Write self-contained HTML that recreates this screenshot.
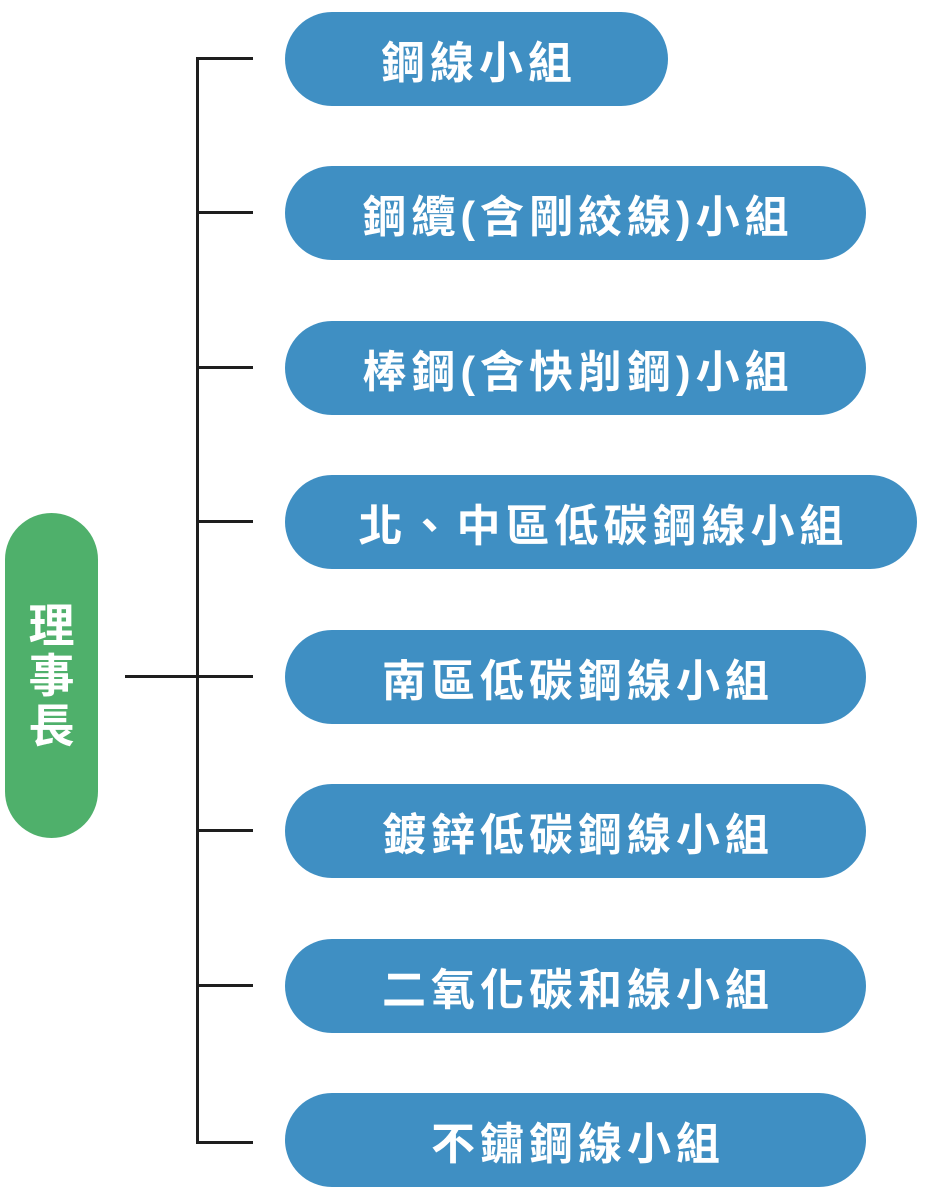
<!DOCTYPE html>
<html><head><meta charset="utf-8"><style>
body{margin:0;width:930px;height:1200px;background:#fff;position:relative;overflow:hidden;font-family:"Liberation Sans","Noto Sans CJK TC",sans-serif}
.g{position:absolute;left:5px;top:513px;width:93px;height:325px;border-radius:47px;background:#4fb06b;color:#fff;font-weight:bold;font-size:46px;line-height:50px;display:flex;flex-direction:column;align-items:center;justify-content:center}
.b{position:absolute;left:285px;height:94px;border-radius:47px;background:#3f8fc3;color:#fff;font-weight:bold;font-size:44px;display:flex;align-items:center;justify-content:center;letter-spacing:5px;padding-left:5px;box-sizing:border-box}
.l{position:absolute;background:#1e1e1e}
</style></head><body>
<div class="g"><span>理</span><span>事</span><span>長</span></div>
<div class="l" style="left:125px;top:675px;width:72px;height:3px"></div>
<div class="l" style="left:196px;top:57px;width:3px;height:1087px"></div>
<div class="l" style="left:196px;top:57px;width:57px;height:3px"></div>
<div class="l" style="left:196px;top:211px;width:57px;height:3px"></div>
<div class="l" style="left:196px;top:366px;width:57px;height:3px"></div>
<div class="l" style="left:196px;top:520px;width:57px;height:3px"></div>
<div class="l" style="left:196px;top:675px;width:57px;height:3px"></div>
<div class="l" style="left:196px;top:829px;width:57px;height:3px"></div>
<div class="l" style="left:196px;top:984px;width:57px;height:3px"></div>
<div class="l" style="left:196px;top:1141px;width:57px;height:3px"></div>
<div class="b" style="top:12px;width:383px">鋼線小組</div>
<div class="b" style="top:166px;width:581px">鋼纜(含剛絞線)小組</div>
<div class="b" style="top:321px;width:581px">棒鋼(含快削鋼)小組</div>
<div class="b" style="top:475px;width:632px">北、中區低碳鋼線小組</div>
<div class="b" style="top:630px;width:581px">南區低碳鋼線小組</div>
<div class="b" style="top:784px;width:581px">鍍鋅低碳鋼線小組</div>
<div class="b" style="top:939px;width:581px">二氧化碳和線小組</div>
<div class="b" style="top:1093px;width:581px">不鏽鋼線小組</div>
</body></html>
